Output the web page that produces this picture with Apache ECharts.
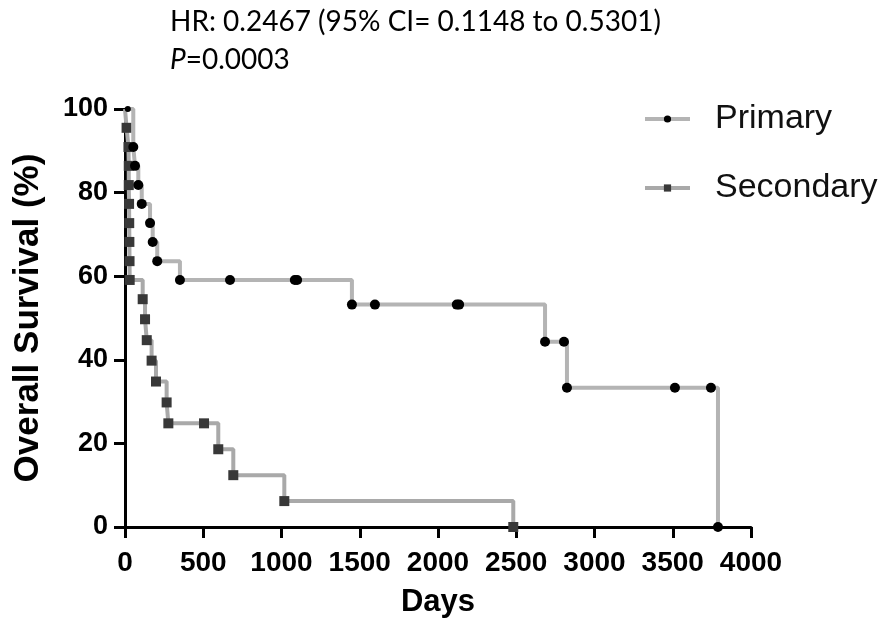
<!DOCTYPE html>
<html><head><meta charset="utf-8">
<script src="https://cdn.jsdelivr.net/npm/echarts@6/dist/echarts.min.js"></script>
<style>html,body{margin:0;padding:0;background:#fff}#c{width:883px;height:627px}</style>
</head><body><div id="c"></div>
<script>
const titleLine1 = 'HR: 0.2467 (95% CI= 0.1148 to 0.5301)';
const titleLine2P = 'P';
const titleLine2Rest = '=0.0003';
const xTicks = [0, 500, 1000, 1500, 2000, 2500, 3000, 3500, 4000];
const yTicks = [0, 20, 40, 60, 80, 100];
const seriesNames = ['Primary', 'Secondary'];
const primaryDays = [0, 18, 53, 64, 85, 107, 160, 177, 206, 351, 671, 1085, 1100, 1450, 1597, 2120, 2135, 2684, 2805, 2824, 3514, 3744, 3789];
const primarySurv = [100, 100, 90.9, 86.4, 81.8, 77.3, 72.7, 68.2, 63.6, 59.1, 59.1, 59.1, 59.1, 53.2, 53.2, 53.2, 53.2, 44.3, 44.3, 33.3, 33.3, 33.3, 0];
const secondaryDays = [0, 10, 22, 24, 24, 26, 27, 28, 29, 30, 113, 128, 139, 170, 198, 266, 277, 505, 596, 692, 1018, 2481];
const secondarySurv = [100, 95.5, 90.9, 86.4, 81.8, 77.3, 72.7, 68.2, 63.6, 59.1, 54.5, 49.7, 44.7, 39.8, 34.8, 29.8, 24.8, 24.8, 18.6, 12.4, 6.2, 0];

function build(days, surv, sizes) {
  return days.map((d, i) => {
    const o = { value: [d, surv[i]] };
    if (sizes[i] !== undefined) o.symbolSize = sizes[i];
    return o;
  });
}
const chart = echarts.init(document.getElementById('c'));
const axisFont = { fontFamily: 'Liberation Sans, Arial, sans-serif', fontWeight: 'bold', color: '#000' };
chart.setOption({
  animation: false,
  backgroundColor: '#fff',
  graphic: [
    { type: 'text', left: 170, top: 8, style: { text: titleLine1, font: '28px Lato, sans-serif', fill: '#000' } },
    { type: 'text', left: 170, top: 46, style: { text: '{i|' + titleLine2P + '}' + titleLine2Rest, font: '28px Lato, sans-serif', fill: '#000',
      rich: { i: { fontStyle: 'italic', fontFamily: 'Lato, sans-serif', fontSize: 28 } } } }
  ],
  legend: {
    orient: 'vertical', left: 638, top: 94, itemGap: 29, itemWidth: 45, itemHeight: 9,
    data: seriesNames,
    lineStyle: { width: 4 },
    textStyle: { fontFamily: 'Liberation Sans, Arial, sans-serif', fontSize: 34, color: '#111', lineHeight: 40, padding: [0, 0, 0, 20] }
  },
  grid: { left: 125, right: 132, top: 109, bottom: 100, containLabel: false },
  xAxis: {
    type: 'value', min: 0, max: 4000, interval: 500,
    name: 'Days', nameLocation: 'middle', nameGap: 60,
    nameTextStyle: Object.assign({ fontSize: 31 }, axisFont),
    axisLine: { lineStyle: { color: '#000', width: 3 } },
    axisTick: { length: 11, lineStyle: { color: '#000', width: 3 } },
    axisLabel: Object.assign({ fontSize: 28, margin: 22, formatter: v => xTicks.includes(v) ? String(v) : '' }, axisFont),
    splitLine: { show: false }
  },
  yAxis: {
    type: 'value', min: 0, max: 100, interval: 20,
    name: 'Overall Survival (%)', nameLocation: 'middle', nameGap: 79, nameRotate: 90,
    nameTextStyle: Object.assign({ fontSize: 35 }, axisFont),
    axisLine: { show: true, lineStyle: { color: '#000', width: 3 } },
    axisTick: { show: true, length: 11, lineStyle: { color: '#000', width: 3 } },
    axisLabel: Object.assign({ fontSize: 27, margin: 17, formatter: v => yTicks.includes(v) ? String(v) : '' }, axisFont),
    splitLine: { show: false }
  },
  series: [
    { name: seriesNames[0], type: 'line', step: 'end', data: build(primaryDays, primarySurv, [0, 6]),
      symbol: 'circle', symbolSize: 10,
      lineStyle: { color: '#b4b4b4', width: 4 },
      itemStyle: { color: '#000', borderWidth: 0 }, z: 3 },
    { name: seriesNames[1], type: 'line', step: 'end', data: build(secondaryDays, secondarySurv, [0]),
      symbol: 'rect', symbolSize: 10,
      lineStyle: { color: '#a9a9a9', width: 4 },
      itemStyle: { color: '#383838', borderWidth: 0 }, z: 2 }
  ]
});
</script></body></html>
